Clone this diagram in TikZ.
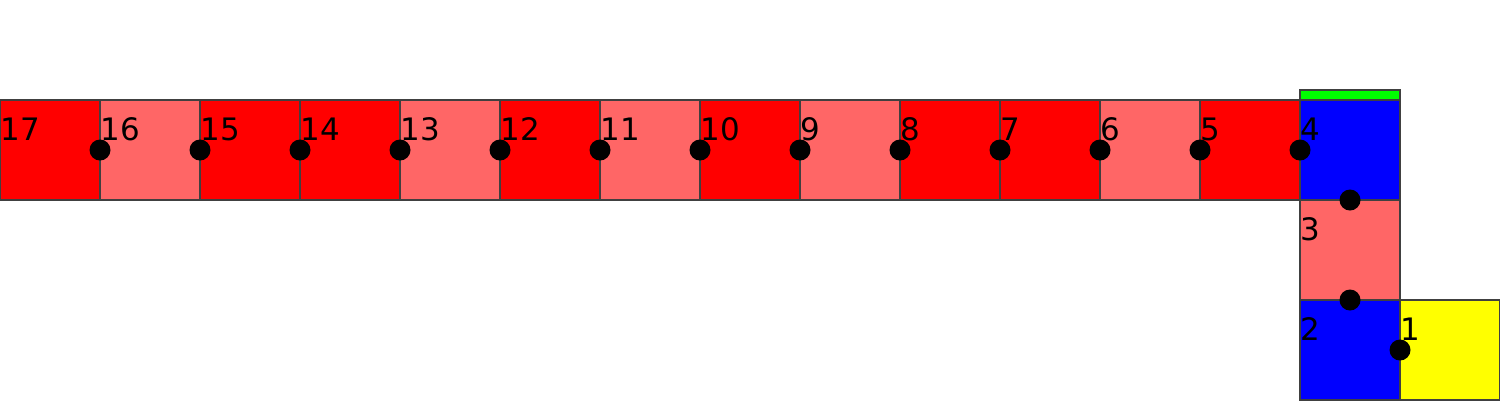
\documentclass[tikz,border=0pt]{standalone}
\usepackage{fontspec}
\setmainfont{DejaVu Sans}
\usetikzlibrary{positioning}
\definecolor{cellred}{HTML}{FF0000}
\definecolor{cellpink}{HTML}{FF6666}
\definecolor{cellblue}{HTML}{0000FF}
\definecolor{cellyellow}{HTML}{FFFF00}
\definecolor{cellgreen}{HTML}{00FF00}

\begin{document}
\begin{tikzpicture}[
    cell/.style={draw=black!75,line width=0.4pt,minimum size=1cm,inner sep=0pt,outer sep=0pt},
    joint/.style={circle,fill=black,minimum size=0.21cm,inner sep=0pt},
    num/.style={anchor=base west,inner sep=0pt,font=\fontsize{8.8}{10}\selectfont}]
  \useasboundingbox (0,0) rectangle (15,4);
  % the bent chain of cells
  \node[cell,fill=cellyellow] (c1) at (14.5,0.5) {};
  \node[cell,fill=cellblue,left=0pt of c1] (c2) {};
  \node[cell,fill=cellpink,above=0pt of c2] (c3) {};
  \node[cell,fill=cellblue,above=0pt of c3] (c4) {};
  \node[cell,fill=cellgreen,minimum height=0.1cm,above=0pt of c4] (cap) {};
  \foreach \k/\col [remember=\k as \prev (initially 4)] in
      {5/cellred,6/cellpink,7/cellred,8/cellred,9/cellpink,10/cellred,11/cellpink,
       12/cellred,13/cellpink,14/cellred,15/cellred,16/cellpink,17/cellred}
    \node[cell,fill=\col,left=0pt of c\prev] (c\k) {};
  % joints between neighbours
  \foreach \k in {4,...,16}
    \node[joint] (j\k) at (c\k.west) {};
  \node[joint] (j3) at (c4.south) {};
  \node[joint] (j2) at (c3.south) {};
  \node[joint] (j1) at (c1.west) {};
  % numbers
  \foreach \k in {1,...,17}
    \node[num] (n\k) at ([yshift=-0.4cm]c\k.north west) {\k};
\end{tikzpicture}
\end{document}
